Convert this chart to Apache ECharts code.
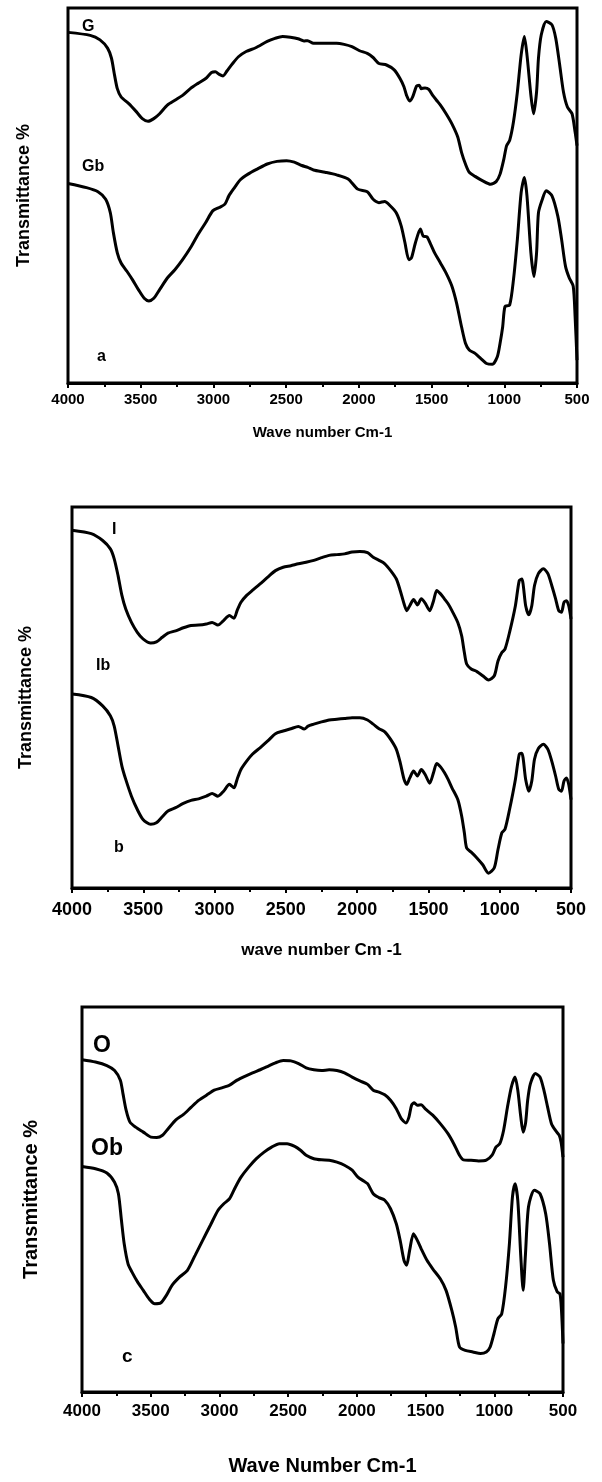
<!DOCTYPE html>
<html><head><meta charset="utf-8">
<script src="https://cdn.jsdelivr.net/npm/echarts@6/dist/echarts.min.js"></script>
<style>html,body{margin:0;padding:0;background:#fff}#c{width:602px;height:1482px}</style>
</head><body><div id="c"></div>
<script>
// Panel a
const wnG = [4000,3847,3780,3728,3701,3680,3661,3635,3582,3529,3489,3450,3410,3370,3317,3265,3212,3159,3106,3053,3013,2987,2960,2934,2907,2868,2828,2775,2709,2630,2577,2524,2471,2418,2378,2352,2312,2233,2153,2101,2048,1995,1942,1902,1862,1810,1757,1717,1690,1672,1651,1630,1603,1585,1571,1545,1519,1492,1466,1439,1400,1360,1320,1294,1267,1241,1201,1148,1095,1056,1029,1003,984,963,937,910,884,862,844,817,799,778,765,746,712,672,646,619,593,566,534,513,500];
const tG = [93.5,92.7,91.5,89.3,86.6,82.1,78.5,76.3,74.5,72.3,70.5,69.8,70.5,71.8,74.1,75.4,76.7,78.5,79.9,81.2,82.8,83.0,82.3,81.9,83.2,85.2,87.0,88.4,89.4,91.1,91.9,92.4,92.2,91.8,91.2,91.3,90.6,90.6,90.6,90.3,89.7,88.6,87.9,86.8,85.2,84.8,83.5,81.2,79.0,76.7,75.2,76.3,79.2,79.4,78.5,78.7,78.3,76.7,75.4,74.1,71.8,69.1,65.6,61.5,58.4,56.2,55.1,53.9,53.0,53.7,55.7,59.7,63.3,64.7,69.6,77.6,87.5,92.4,87.5,76.7,71.8,77.6,86.6,92.8,96.4,95.5,91.9,84.8,77.6,73.6,71.8,66.9,63.3];
const wnGb = [4000,3873,3794,3741,3709,3688,3661,3635,3595,3556,3516,3476,3444,3410,3370,3317,3265,3212,3159,3106,3053,3005,2960,2921,2894,2855,2815,2762,2696,2630,2563,2497,2444,2392,2352,2312,2233,2153,2074,2008,1942,1902,1862,1823,1783,1743,1709,1683,1656,1638,1611,1577,1558,1532,1505,1479,1439,1400,1360,1328,1294,1267,1241,1201,1161,1122,1082,1048,1029,1011,995,963,937,910,884,862,844,817,796,778,765,738,712,672,632,606,579,553,526,513,500];
const tGb = [53.2,52.1,51.0,49.0,45.4,40.1,34.7,32.0,29.8,27.5,24.9,22.6,21.9,22.6,24.9,28.0,30.2,32.9,36.0,39.6,42.8,45.9,46.8,47.7,49.9,52.1,54.2,55.7,57.1,58.4,59.1,59.3,58.9,58.0,57.5,56.8,56.2,55.5,54.4,51.7,51.0,49.0,48.1,48.4,47.2,45.4,41.9,37.4,32.9,33.4,37.4,41.1,39.2,39.0,36.9,34.7,32.0,29.3,25.8,21.3,15.0,10.6,8.8,7.9,6.5,5.2,5.0,7.0,10.6,15.0,20.4,20.8,27.5,38.3,50.8,54.8,49.9,34.7,28.4,34.7,45.4,49.0,51.3,49.9,44.5,38.3,31.1,28.0,25.8,17.7,6.1];
// Panel b
const wnI = [4000,3865,3785,3731,3704,3677,3650,3623,3583,3542,3502,3448,3408,3367,3327,3273,3219,3165,3112,3058,3017,2977,2937,2896,2864,2842,2815,2775,2735,2681,2627,2573,2519,2465,2412,2358,2304,2250,2196,2142,2088,2035,1981,1927,1887,1846,1806,1765,1725,1698,1671,1652,1631,1604,1577,1550,1523,1491,1464,1442,1415,1388,1362,1335,1294,1267,1248,1232,1200,1160,1119,1079,1038,1012,985,963,931,890,863,845,818,796,775,756,729,694,662,635,608,586,567,549,532,516,500];
const tI = [93.9,93.0,91.2,89.0,86.4,82.0,76.8,73.2,69.7,67.1,65.4,64.3,64.6,65.8,66.9,67.5,68.3,68.9,69.0,69.3,69.7,69.0,70.2,71.5,70.8,72.8,75.0,76.8,78.1,79.8,81.6,83.3,84.2,84.6,85.1,85.5,86.0,86.7,87.3,87.5,87.7,88.2,88.3,88.0,86.8,86.0,85.1,83.3,81.1,78.1,74.6,72.8,74.1,75.7,74.3,75.9,74.8,72.8,75.4,78.1,77.2,75.9,74.6,72.8,69.7,66.2,61.8,58.8,57.5,56.8,55.7,54.6,55.7,59.6,61.8,62.7,67.1,74.1,80.7,81.1,74.1,71.7,74.1,79.4,82.5,83.8,82.5,79.4,75.9,72.8,72.4,75.0,75.4,74.1,70.6];
const wnIb = [4000,3865,3785,3731,3704,3677,3650,3623,3583,3542,3502,3448,3408,3367,3327,3273,3219,3165,3112,3058,3017,2977,2937,2896,2864,2842,2815,2775,2735,2681,2627,2573,2519,2465,2412,2371,2344,2304,2250,2196,2142,2088,2035,1981,1927,1887,1846,1806,1765,1725,1698,1671,1652,1631,1604,1577,1550,1523,1491,1464,1442,1415,1388,1362,1335,1294,1267,1248,1232,1200,1160,1119,1079,1038,1012,985,963,931,890,863,845,818,796,775,756,729,694,662,635,608,586,567,549,532,516,500];
const tIb = [50.9,50.0,47.8,45.2,42.5,37.3,32.0,28.5,24.1,20.6,18.0,16.7,17.1,18.7,20.2,21.1,22.2,23.0,23.4,24.1,24.8,24.1,25.4,27.2,26.3,28.5,31.1,33.3,35.1,36.8,38.6,40.5,41.2,41.8,42.4,41.7,42.5,43.0,43.6,44.1,44.3,44.5,44.7,44.7,44.1,43.0,41.8,41.0,39.0,36.4,32.9,28.5,27.2,28.9,30.7,29.4,31.1,29.8,27.5,30.3,32.7,31.8,30.3,28.5,26.3,23.2,18.9,14.5,10.5,9.4,7.9,6.1,3.9,5.3,10.1,14.5,15.4,20.6,28.5,35.1,35.4,28.5,25.4,28.1,33.8,36.6,37.7,36.4,33.3,29.4,25.9,25.4,28.1,28.9,27.2,23.2];
// Panel c
const wnO = [4000,3902,3819,3763,3721,3702,3679,3651,3610,3554,3498,3456,3414,3373,3317,3261,3205,3149,3094,3038,2982,2926,2871,2815,2759,2703,2647,2592,2536,2480,2424,2369,2313,2257,2201,2145,2090,2034,1978,1922,1881,1839,1797,1755,1713,1677,1643,1621,1602,1582,1560,1532,1504,1448,1393,1337,1295,1253,1225,1169,1114,1058,1016,988,960,932,904,876,849,829,807,790,773,757,737,701,667,639,612,584,556,528,514,500];
const tO = [86.3,85.7,84.8,83.5,81.0,77.5,73.2,70.1,68.8,67.5,66.2,66.1,66.7,68.4,70.7,72.1,74.0,75.8,77.1,78.4,79.0,79.7,81.0,82.0,82.9,83.7,84.6,85.5,86.1,86.0,85.3,84.2,83.7,83.5,83.7,83.5,82.9,81.8,80.8,79.9,78.4,77.9,77.2,75.8,73.6,71.0,69.9,71.4,74.5,75.1,74.5,74.6,73.6,71.9,69.7,67.1,64.5,61.5,60.3,60.2,60.0,60.2,61.5,63.6,64.5,68.0,74.0,79.2,81.8,78.4,71.4,67.5,69.7,75.8,80.1,82.7,81.8,78.4,74.0,69.7,68.0,66.7,64.9,61.0];
const wnOb = [4000,3902,3819,3763,3735,3713,3693,3665,3637,3596,3554,3512,3470,3428,3386,3345,3289,3233,3177,3122,3066,3010,2968,2926,2884,2843,2787,2731,2675,2620,2564,2508,2452,2410,2369,2313,2257,2201,2145,2090,2034,1992,1950,1922,1881,1839,1797,1755,1713,1685,1657,1638,1616,1588,1560,1532,1490,1448,1393,1351,1309,1281,1253,1211,1156,1100,1058,1030,1002,974,946,918,890,868,849,829,807,790,773,751,709,667,626,598,570,542,522,511,500];
const tOb = [58.6,58.0,56.9,54.5,51.5,44.6,38.5,33.3,31.2,28.6,26.4,24.2,22.9,23.1,25.1,27.7,29.9,31.6,35.5,39.4,43.3,47.2,48.9,50.2,53.2,55.8,58.4,60.6,62.3,63.6,64.5,64.5,63.8,62.8,61.5,60.6,60.3,60.2,59.7,58.9,57.6,55.8,54.8,54.1,51.5,50.5,49.8,47.6,43.7,39.4,34.2,32.9,36.8,41.1,39.4,37.2,34.2,32.0,29.4,26.4,21.2,16.9,11.7,10.8,10.4,10.0,10.4,11.7,15.2,19.0,20.3,27.3,38.5,50.6,54.1,49.8,35.1,26.4,35.9,48.1,52.4,51.5,46.3,38.5,29.0,26.0,25.5,21.2,12.6];

const xTitles = ['Wave number Cm-1', 'wave number Cm -1', 'Wave Number Cm-1'];
const yTitle = 'Transmittance %';

const pairs = (a, b) => a.map((v, i) => [v, b[i]]);
const chart = echarts.init(document.getElementById('c'), null, {renderer: 'canvas'});
const FF = '"Liberation Sans", Arial, sans-serif';
const FN = '"Liberation Sans Narrow", "Liberation Sans", Arial, sans-serif';

const grids = [
  {left: 68, top: 8, width: 509, height: 375},
  {left: 72, top: 507, width: 499, height: 381},
  {left: 82, top: 1007, width: 481, height: 385}
].map(g => Object.assign({show: true, borderColor: '#000', borderWidth: 3, backgroundColor: 'transparent'}, g));

const tickFont = [15, 18, 17];
const tickFam = [FF, FF, FN];
const labelMargin = [9, 13, 11];
const nameGaps = [42, 54, 64];
const titleFont = [15, 17, 20];
const yGaps = [35, 37, 41];
const yFont = [18, 18, 20];

const xAxes = [0,1,2].map(i => ({
  type: 'value', gridIndex: i, min: 500, max: 4000, interval: 500, inverse: true,
  axisLine: {show: true, lineStyle: {color: '#000', width: 3}},
  axisTick: {show: true, inside: false, length: 5, lineStyle: {color: '#000', width: 2}},
  minorTick: {show: true, splitNumber: 2, length: 4, lineStyle: {color: '#000', width: 2}},
  splitLine: {show: false},
  axisLabel: {color: '#000', fontWeight: 'bold', fontSize: tickFont[i], fontFamily: tickFam[i], margin: labelMargin[i], formatter: v => String(v)},
  name: xTitles[i], nameLocation: 'middle', nameGap: nameGaps[i],
  nameTextStyle: {color: '#000', fontWeight: 'bold', fontSize: titleFont[i], fontFamily: i === 2 ? FN : FF}
}));
const yAxes = [0,1,2].map(i => ({
  type: 'value', gridIndex: i, min: 0, max: 100,
  axisLine: {show: false}, axisTick: {show: false}, axisLabel: {show: false}, splitLine: {show: false},
  name: yTitle, nameLocation: 'middle', nameRotate: 90, nameGap: yGaps[i],
  nameTextStyle: {color: '#000', fontWeight: 'bold', fontSize: yFont[i], fontFamily: FF}
}));

const lineSeries = (data, i) => ({
  type: 'line', xAxisIndex: i, yAxisIndex: i, data: data, smooth: 0.25, showSymbol: false,
  lineStyle: {color: '#000', width: 3}, animation: false
});

const txt = (x, y, s, size) => ({type: 'text', left: x, top: y, style: {text: s, fill: '#000', font: 'bold ' + size + 'px ' + FF}});

chart.setOption({
  animation: false,
  backgroundColor: '#fff',
  grid: grids,
  xAxis: xAxes,
  yAxis: yAxes,
  series: [
    lineSeries(pairs(wnG, tG), 0), lineSeries(pairs(wnGb, tGb), 0),
    lineSeries(pairs(wnI, tI), 1), lineSeries(pairs(wnIb, tIb), 1),
    lineSeries(pairs(wnO, tO), 2), lineSeries(pairs(wnOb, tOb), 2)
  ],
  graphic: [
    txt(82, 19, 'G', 16), txt(82, 159, 'Gb', 16), txt(97, 349, 'a', 16),
    txt(112, 522, 'I', 16), txt(96, 658, 'Ib', 16), txt(114, 840, 'b', 16),
    txt(93, 1034, 'O', 23), txt(91, 1137, 'Ob', 23), txt(122, 1347, 'c', 19)
  ]
});
</script>
</body></html>
